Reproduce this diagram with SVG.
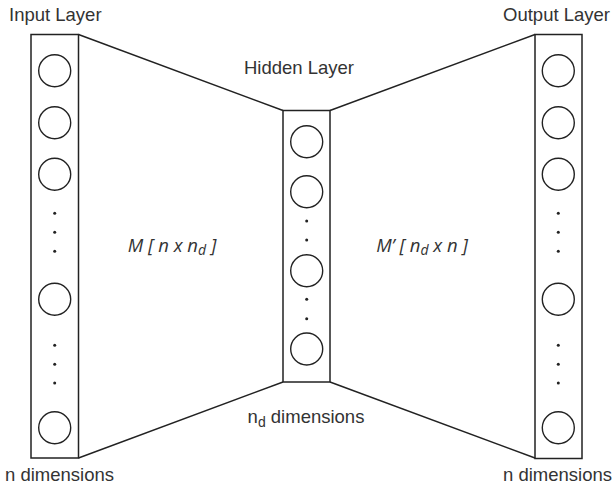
<svg xmlns="http://www.w3.org/2000/svg" width="615" height="487" viewBox="0 0 615 487">
<style>
.box{fill:none;stroke:#222;stroke-width:1.5}
.n{fill:none;stroke:#222;stroke-width:1.4}
.d{fill:#222}
.c{stroke:#222;stroke-width:1.5;fill:none}
.t{font-family:"Liberation Sans",Arial,sans-serif;font-size:18.5px;fill:#333}
.m{font-family:"Open Sans","Noto Sans",sans-serif;font-size:18.5px;font-style:italic;fill:#333}
</style>
<rect width="615" height="487" fill="#fff"/>
<g id="connectors">
<line class="c" x1="78.5" y1="34.5" x2="283" y2="110.5"/>
<line class="c" x1="330" y1="110.5" x2="535" y2="34.5"/>
<line class="c" x1="78.5" y1="458" x2="283" y2="382"/>
<line class="c" x1="330" y1="382" x2="535" y2="458"/>
</g>
<g id="input">
<rect class="box" x="31" y="34.5" width="47.5" height="423.5"/>
<circle class="n" cx="54.7" cy="70.7" r="16"/>
<circle class="n" cx="54.7" cy="122.7" r="16"/>
<circle class="n" cx="54.7" cy="174.3" r="16"/>
<circle class="d" cx="54.7" cy="213.3" r="1.5"/>
<circle class="d" cx="54.7" cy="232.3" r="1.5"/>
<circle class="d" cx="54.7" cy="251.3" r="1.5"/>
<circle class="n" cx="54.7" cy="299.3" r="16"/>
<circle class="d" cx="54.7" cy="345.3" r="1.5"/>
<circle class="d" cx="54.7" cy="364.3" r="1.5"/>
<circle class="d" cx="54.7" cy="383" r="1.5"/>
<circle class="n" cx="54.7" cy="427.7" r="16"/>
<text class="t" x="9" y="21">Input Layer</text>
<text class="t" x="5" y="481">n dimensions</text>
</g>
<g id="hidden">
<rect class="box" x="283" y="110.5" width="47" height="271.5"/>
<circle class="n" cx="306.7" cy="141.7" r="16"/>
<circle class="n" cx="306.7" cy="191.7" r="16"/>
<circle class="d" cx="306.7" cy="221" r="1.5"/>
<circle class="d" cx="306.7" cy="240" r="1.5"/>
<circle class="n" cx="306.7" cy="270.7" r="16"/>
<circle class="d" cx="306.7" cy="299.3" r="1.5"/>
<circle class="d" cx="306.7" cy="318.7" r="1.5"/>
<circle class="n" cx="306.7" cy="349" r="16"/>
<text class="t" x="299" y="74" text-anchor="middle">Hidden Layer</text>
<text class="t" x="306" y="423" text-anchor="middle">n<tspan font-size="14" dy="4">d</tspan><tspan dy="-4"> dimensions</tspan></text>
</g>
<g id="output">
<rect class="box" x="535" y="34.5" width="47" height="424"/>
<circle class="n" cx="558.3" cy="70.7" r="16"/>
<circle class="n" cx="558.3" cy="122.7" r="16"/>
<circle class="n" cx="558.3" cy="174.3" r="16"/>
<circle class="d" cx="558.3" cy="213.3" r="1.5"/>
<circle class="d" cx="558.3" cy="232.3" r="1.5"/>
<circle class="d" cx="558.3" cy="251.3" r="1.5"/>
<circle class="n" cx="558.3" cy="299.3" r="16"/>
<circle class="d" cx="558.3" cy="345.3" r="1.5"/>
<circle class="d" cx="558.3" cy="364.3" r="1.5"/>
<circle class="d" cx="558.3" cy="383" r="1.5"/>
<circle class="n" cx="558.3" cy="427.7" r="16"/>
<text class="t" x="610" y="21" text-anchor="end">Output Layer</text>
<text class="t" x="503" y="481">n dimensions</text>
</g>
<g id="labels">
<text class="m" x="172" y="252" text-anchor="middle">M [ n x n<tspan font-size="14" dy="3">d</tspan><tspan dy="-3"> ]</tspan></text>
<text class="m" x="422" y="252" text-anchor="middle">M’ [ n<tspan font-size="14" dy="3">d</tspan><tspan dy="-3"> x n ]</tspan></text>
</g>
</svg>
